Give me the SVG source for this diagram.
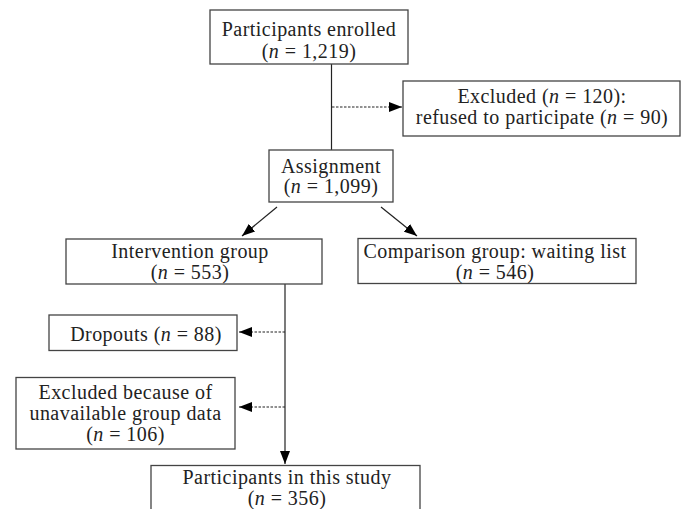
<svg xmlns="http://www.w3.org/2000/svg" width="687" height="509" viewBox="0 0 687 509">
<style>
.box{fill:#fff;stroke:#444;stroke-width:1.3}
.t{font-family:"Liberation Serif","Times New Roman",serif;font-size:20px;letter-spacing:0.45px;fill:#222;text-anchor:middle}
.i{font-style:italic}
.ln{stroke:#222;stroke-width:1.2;fill:none}
.dot{stroke:#222;stroke-width:1.2;fill:none;stroke-dasharray:2.5 1.5}
</style>
<defs>
<marker id="ah" viewBox="0 0 13 10" refX="13" refY="5" markerWidth="13" markerHeight="10" markerUnits="userSpaceOnUse" orient="auto">
<path d="M0,0 L13,5 L0,10 Z" fill="#000"/>
</marker>
</defs>
<rect width="687" height="509" fill="#fff"/>
<g id="connectors">
<line class="ln" x1="331.5" y1="64" x2="331.5" y2="150"/>
<line class="dot" x1="332" y1="107" x2="402" y2="107" marker-end="url(#ah)"/>
<line class="ln" x1="277" y1="207" x2="242" y2="236" marker-end="url(#ah)"/>
<line class="ln" x1="381" y1="207" x2="417" y2="236" marker-end="url(#ah)"/>
<line class="ln" x1="285" y1="284" x2="285" y2="464" marker-end="url(#ah)"/>
<line class="dot" x1="285" y1="332" x2="239" y2="332" marker-end="url(#ah)"/>
<line class="dot" x1="285" y1="407" x2="239" y2="407" marker-end="url(#ah)"/>
</g>
<g id="enrolled">
<rect class="box" x="210" y="10" width="198" height="54"/>
<text class="t" x="309" y="35.5">Participants enrolled</text>
<text class="t" x="309" y="58">(<tspan class="i">n</tspan> = 1,219)</text>
</g>
<g id="excluded1">
<rect class="box" x="403" y="81" width="277" height="55"/>
<text class="t" x="542" y="103">Excluded (<tspan class="i">n</tspan> = 120):</text>
<text class="t" x="542" y="124">refused to participate (<tspan class="i">n</tspan> = 90)</text>
</g>
<g id="assignment">
<rect class="box" x="269" y="150" width="124" height="52"/>
<text class="t" x="331" y="172.5">Assignment</text>
<text class="t" x="331" y="192.5">(<tspan class="i">n</tspan> = 1,099)</text>
</g>
<g id="intervention">
<rect class="box" x="66" y="239" width="256" height="45"/>
<text class="t" x="190" y="258">Intervention group</text>
<text class="t" x="190" y="278.5">(<tspan class="i">n</tspan> = 553)</text>
</g>
<g id="comparison">
<rect class="box" x="358" y="238.5" width="278" height="45"/>
<text class="t" x="495" y="258">Comparison group: waiting list</text>
<text class="t" x="495" y="278.5">(<tspan class="i">n</tspan> = 546)</text>
</g>
<g id="dropouts">
<rect class="box" x="49" y="315" width="188" height="35.5"/>
<text class="t" x="146" y="340.5">Dropouts (<tspan class="i">n</tspan> = 88)</text>
</g>
<g id="excluded2">
<rect class="box" x="16" y="377.5" width="219" height="71.5"/>
<text class="t" x="125.5" y="398.5">Excluded because of</text>
<text class="t" x="125.5" y="420">unavailable group data</text>
<text class="t" x="125.5" y="440.5">(<tspan class="i">n</tspan> = 106)</text>
</g>
<g id="study">
<rect class="box" x="151" y="465.5" width="269" height="60"/>
<text class="t" x="287" y="484">Participants in this study</text>
<text class="t" x="287" y="504.5">(<tspan class="i">n</tspan> = 356)</text>
</g>
</svg>
